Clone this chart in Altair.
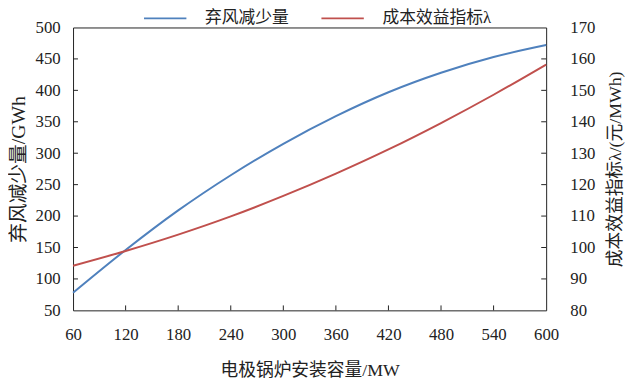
import altair as alt
import pandas as pd

# Data
capacity_mw = [60, 120, 180, 240, 300, 360, 420, 480, 540, 600]
curtail_reduction = [78, 146, 209, 265, 315, 359, 397, 428, 453, 472]                # GWh, left axis
cost_benefit = [94.2, 98.9, 104.1, 109.9, 116.4, 123.5, 131.2, 139.6, 148.6, 158.2]  # 元/MWh, right axis

series_names = ["弃风减少量", "成本效益指标λ"]
series_colors = ["#4F81BD", "#C0504D"]

x_ticks = [60, 120, 180, 240, 300, 360, 420, 480, 540, 600]
y_left_ticks = [50, 100, 150, 200, 250, 300, 350, 400, 450, 500]
y_right_ticks = [80, 90, 100, 110, 120, 130, 140, 150, 160, 170]

df_blue = pd.DataFrame({"mw": capacity_mw, "v": curtail_reduction, "series": series_names[0]})
df_red = pd.DataFrame({"mw": capacity_mw, "v": cost_benefit, "series": series_names[1]})
df_xt = pd.DataFrame({"t": x_ticks[1:-1]})
df_yt = pd.DataFrame({"t": y_left_ticks[1:-1]})

W, H = 480, 287
NUM_FONT = "Liberation Serif"
TXT_FONT = "Liberation Serif, Noto Sans CJK SC"
TXT_COLOR = "#222222"

x_enc = alt.X("mw:Q",
              scale=alt.Scale(domain=[60, 600], nice=False, zero=False),
              axis=alt.Axis(values=x_ticks, title="电极锅炉安装容量/MW",
                            labelFont=NUM_FONT, labelFontSize=17, labelPadding=17,
                            labelFlush=False, labelColor=TXT_COLOR,
                            titleFont=TXT_FONT, titleFontSize=18, titleFontWeight="normal",
                            titleColor=TXT_COLOR, titlePadding=19))

color_enc = alt.Color("series:N",
                      scale=alt.Scale(domain=series_names, range=series_colors),
                      legend=alt.Legend(title=None, orient="none", direction="horizontal",
                                        legendX=71, legendY=-32,
                                        symbolType="stroke", symbolSize=1849,
                                        symbolStrokeWidth=2,
                                        labelFont=TXT_FONT, labelFontSize=17,
                                        labelColor=TXT_COLOR,
                                        labelOffset=18, columnPadding=29, padding=0))

blue = alt.Chart(df_blue).mark_line(strokeWidth=2, interpolate="monotone").encode(
    x=x_enc,
    y=alt.Y("v:Q",
            scale=alt.Scale(domain=[50, 500], nice=False, zero=False),
            axis=alt.Axis(values=y_left_ticks, title="弃风减少量/GWh", orient="left",
                          labelFont=NUM_FONT, labelFontSize=17, labelPadding=13,
                          labelFlush=False, labelColor=TXT_COLOR,
                          titleFont=TXT_FONT, titleFontSize=20, titleFontWeight="normal",
                          titleColor=TXT_COLOR, titlePadding=7)),
    color=color_enc,
)

red = alt.Chart(df_red).mark_line(strokeWidth=2, interpolate="monotone").encode(
    x=x_enc,
    y=alt.Y("v:Q",
            scale=alt.Scale(domain=[80, 170], nice=False, zero=False),
            axis=alt.Axis(values=y_right_ticks, title="成本效益指标λ/(元/MWh)", orient="right",
                          labelFont=NUM_FONT, labelFontSize=17, labelPadding=24,
                          labelFlush=False, labelColor=TXT_COLOR,
                          titleFont=TXT_FONT, titleFontSize=18, titleFontWeight="normal",
                          titleColor=TXT_COLOR, titlePadding=30, titleAngle=270)),
    color=color_enc,
)

# inward tick marks
xt = alt.Chart(df_xt).mark_rule(color="#222222", strokeWidth=1).encode(
    x=alt.X("t:Q", scale=alt.Scale(domain=[60, 600], nice=False, zero=False)),
    y=alt.value(H - 5), y2=alt.value(H),
)
yt_scale = alt.Scale(domain=[50, 500], nice=False, zero=False)
ytl = alt.Chart(df_yt).mark_rule(color="#222222", strokeWidth=1).encode(
    y=alt.Y("t:Q", scale=yt_scale, axis=None),
    x=alt.value(0), x2=alt.value(5),
)
ytr = alt.Chart(df_yt).mark_rule(color="#222222", strokeWidth=1).encode(
    y=alt.Y("t:Q", scale=yt_scale, axis=None),
    x=alt.value(W - 5), x2=alt.value(W),
)

chart = alt.layer(blue, red, xt, ytl, ytr).resolve_scale(
    y="independent"
).properties(
    width=W, height=H,
    autosize=alt.AutoSizeParams(type="none"),
    padding={"left": 66, "top": 17, "right": 80, "bottom": 76},
).configure_view(
    stroke="#222222", strokeWidth=1
).configure_axis(
    domain=False, ticks=False, grid=False
)

chart.save("out.html", embed_options={"renderer": "svg", "actions": False})
